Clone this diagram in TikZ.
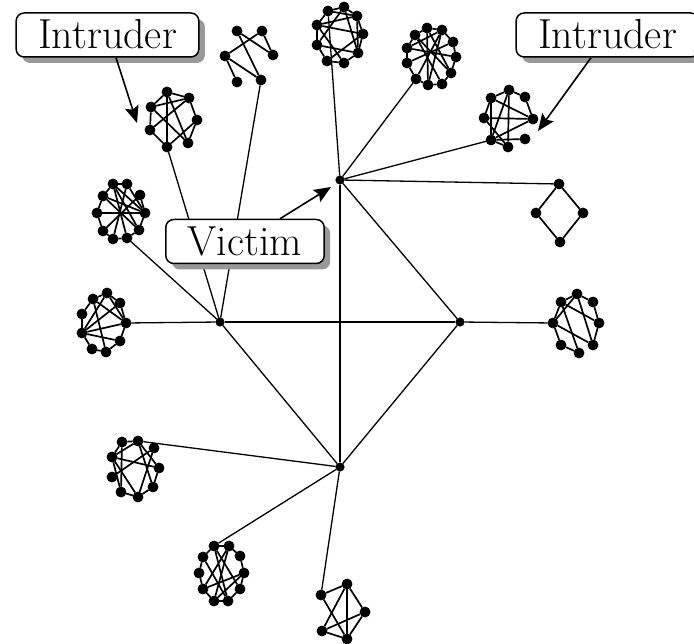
\documentclass[tikz,border=0pt]{standalone}
\usepackage{fontspec}
\usetikzlibrary{arrows.meta,shadows,backgrounds}
\begin{document}
\begin{tikzpicture}[x=1pt,y=-1pt,
 dot/.style={circle,fill=black,draw=black,line width=0.8pt,inner sep=0pt,minimum size=10pt},
 hub/.style={circle,fill=black,draw=black,line width=0.6pt,inner sep=0pt,minimum size=8.5pt},
 link/.style={line width=1.7pt},
 trunk/.style={line width=1.3pt},
 tag/.style={draw=black,line width=1.5pt,fill=white,rounded corners=8pt,inner xsep=22pt,inner ysep=8pt,text height=28pt,text depth=0pt,font=\fontsize{42}{44}\selectfont,drop shadow={shadow xshift=6pt,shadow yshift=-6pt,fill=black!40,opacity=1}},
 pointer/.style={line width=1.6pt,-{Stealth[length=17pt,width=14pt,inset=3pt]}}]
\clip (0,0) rectangle (694,644);
% hubs
\node[hub] (H1) at (340,180) {};
\node[hub] (H2) at (220,322) {};
\node[hub] (H3) at (460,322) {};
\node[hub] (H4) at (340,467) {};
% cluster nodes
\foreach \n/\x/\y in {a1/167/92,a2/189/98,a3/151/107,a4/197/120,a5/150/130,a6/188/143,a7/167/147,
 b1/237/31,b2/262/31,b3/225/56,b4/273/55,b5/237/82,b6/261/80,
 c1/328/11,c2/344/7,c3/317/25,c4/357/16,c5/317/45,c6/363/34,c7/327/61,c8/344/63,c9/358/53,
 d1/427/28,d2/442/30,d3/415/35,d4/453/42,d5/407/48,d6/456/57,d7/407/63,d8/451/73,d9/416/79,d10/428/85,d11/442/84,
 e1/509/90,e2/491/98,e3/525/97,e4/484/118,e5/533/119,e6/491/140,e7/525/139,e8/508/147,
 f1/559/184,f2/536/213,f3/583/213,f4/560/242,
 g1/577/294,g2/561/302,g3/593/302,g4/553/323,g5/599/323,g6/561/345,g7/593/345,g8/579/353,
 h1/113/184,h2/127/184,h3/103/196,h4/140/195,h5/97/213,h6/145/213,h7/103/231,h8/139/230,h9/113/239,h10/127/238,
 i1/107/293,i2/93/299,i3/120/303,i4/82/314,i5/126/323,i6/82/333,i7/120/341,i8/92/349,i9/106/352,
 j1/122/442,j2/138/441,j3/154/448,j4/112/457,j5/159/468,j6/112/477,j7/153/487,j8/121/492,j9/138/497,
 k1/214/546,k2/229/546,k3/203/557,k4/240/556,k5/199/573,k6/244/573,k7/203/589,k8/240/589,k9/214/601,k10/228/601,
 l1/321/595,l2/347/584,l3/365/612,l4/322/631,l5/347/639}
 \node[dot] (\n) at (\x,\y) {};
\begin{pgfonlayer}{background}
% trunk lines
\foreach \a/\b in {H1/H3,H1/H4,H2/H3,H2/H4,H3/H4,
 H1/c1,H1/d9,H1/e6,H1/f1,H3/g4,H2/a7,H2/b6,H2/h10,H2/i5,H4/j2,H4/k1,H4/l1}
 \draw[trunk] (\a) -- (\b);
% cluster edges
\foreach \a/\b in {a1/a2,a1/a3,a2/a3,a1/a6,a2/a4,a3/a5,a3/a6,a5/a2,a4/a6,a5/a7,a4/a7,a1/a7,
 b1/b4,b2/b3,b2/b4,b1/b6,b3/b5,b3/b6,
 c1/c2,c1/c3,c1/c4,c2/c4,c2/c5,c3/c4,c3/c5,c3/c8,c4/c6,c4/c9,c5/c7,c5/c9,c6/c7,c6/c9,c7/c8,c2/c9,c3/c6,c8/c9,
 d1/d2,d1/d3,d2/d4,d3/d5,d4/d6,d5/d7,d6/d8,d7/d9,d8/d11,d9/d10,d10/d11,d2/d9,d1/d8,d3/d11,d5/d6,d4/d7,d1/d10,d2/d5,d3/d8,d2/d10,
 e1/e2,e1/e3,e2/e5,e4/e5,e2/e4,e2/e6,e1/e6,e1/e8,e6/e5,e6/e7,e6/e8,e4/e8,e3/e5,
 f1/f2,f1/f3,f2/f4,f3/f4,
 g1/g2,g1/g3,g3/g5,g2/g4,g2/g8,g4/g1,g4/g7,g4/g6,g6/g8,g1/g7,g2/g5,g5/g7,
 h5/h6,h1/h3,h1/h2,h3/h5,h5/h7,h7/h9,h9/h10,h10/h8,h8/h6,h6/h4,h1/h6,h1/h10,h2/h6,h3/h6,h3/h8,h1/h8,h7/h4,h2/h9,
 i6/i1,i6/i3,i6/i5,i6/i7,i6/i8,i6/i4,i2/i1,i1/i3,i2/i5,i1/i5,i3/i5,i5/i7,i2/i4,i8/i9,i9/i7,i2/i9,
 j1/j2,j1/j4,j2/j4,j4/j8,j4/j5,j4/j9,j1/j8,j2/j7,j3/j6,j3/j9,j5/j7,j8/j9,j7/j9,j2/j5,
 k1/k2,k1/k3,k2/k4,k3/k5,k4/k6,k5/k7,k6/k8,k7/k9,k9/k10,k8/k10,k1/k8,k1/k10,k2/k7,k6/k9,k6/k7,k2/k9,k3/k10,
 l1/l2,l2/l3,l2/l4,l2/l5,l1/l5,l3/l4,l3/l5,l4/l5}
 \draw[link] (\a) -- (\b);
\end{pgfonlayer}
% labels
\node[tag] (intrL) at (107.5,35) {Intruder};
\node[tag] (intrR) at (607.5,35) {Intruder};
\node[tag] (vict) at (245,241.5) {Victim};
\coordinate (tipL) at (137,123);
\coordinate (tipR) at (538,131);
\coordinate (tipV) at (331,187);
\draw[pointer] ([xshift=8.5pt]intrL.south) -- (tipL);
\draw[pointer] ([xshift=-16.5pt]intrR.south) -- (tipR);
\draw[pointer] ([xshift=35pt]vict.north) -- (tipV);
\end{tikzpicture}
\end{document}
